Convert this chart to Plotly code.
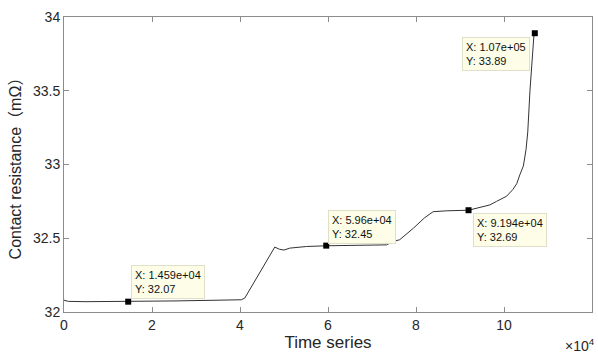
import plotly.graph_objects as go

# curve data
time_x = [0, 1000, 5000, 14590, 25000, 35000, 40300, 41100, 43000, 46400, 47900,
          49000, 50000, 51300, 53000, 55100, 59600, 65000, 73300, 74800, 76300,
          79400, 82000, 83900, 85000, 87000, 91940, 94000, 96800, 98300, 100600,
          102000, 102900, 103600, 104400, 105000, 105400, 105900, 106400, 106800, 107000]
resist_y = [32.08, 32.072, 32.07, 32.07, 32.075, 32.08, 32.083, 32.095, 32.19, 32.365, 32.44,
            32.425, 32.42, 32.433, 32.438, 32.444, 32.449, 32.452, 32.455, 32.478, 32.49,
            32.568, 32.64, 32.68, 32.683, 32.686, 32.69, 32.705, 32.726, 32.75, 32.785,
            32.83, 32.87, 32.93, 32.99, 33.1, 33.22, 33.5, 33.75, 33.876, 33.89]

# data tips
tip_x = [14590, 59600, 91940, 107000]
tip_y = [32.07, 32.45, 32.69, 33.89]
tip_xtext = ["1.459e+04", "5.96e+04", "9.194e+04", "1.07e+05"]
tip_ytext = ["32.07", "32.45", "32.69", "33.89"]

x_tickvals = [0, 20000, 40000, 60000, 80000, 100000, 120000]
x_ticktext = ["0", "2", "4", "6", "8", "10", "12"]
y_tickvals = [32, 32.5, 33, 33.5, 34]
y_ticktext = ["32", "32.5", "33", "33.5", "34"]

FONT = "Liberation Sans, Arial, Noto Sans CJK SC, sans-serif"

fig = go.Figure()
fig.add_trace(go.Scatter(x=time_x, y=resist_y, mode="lines",
                         line=dict(color="#333333", width=1), showlegend=False))
fig.add_trace(go.Scatter(x=tip_x, y=tip_y, mode="markers",
                         marker=dict(symbol="square", size=6, color="black"),
                         showlegend=False))

# annotation placement (anchor, shift) per tip
place = [
    dict(xanchor="left", yanchor="bottom", xshift=3, yshift=3),
    dict(xanchor="left", yanchor="bottom", xshift=2, yshift=2),
    dict(xanchor="left", yanchor="top", xshift=4, yshift=-3),
    dict(xanchor="right", yanchor="top", xshift=-5, yshift=-4),
]
for xv, yv, xt, yt, p in zip(tip_x, tip_y, tip_xtext, tip_ytext, place):
    fig.add_annotation(x=xv, y=yv, xref="x", yref="y", showarrow=False,
                       text=f"X: {xt}<br>Y: {yt}", align="left",
                       font=dict(family=FONT, size=11, color="#111111"),
                       bgcolor="#fdfde8", bordercolor="#e0e0c8", borderwidth=1,
                       borderpad=3, **p)

fig.add_annotation(x=1.0, y=0, xref="paper", yref="paper", xanchor="right", yanchor="top",
                   yshift=-22, xshift=5, showarrow=False, text="×10<sup>4</sup>",
                   font=dict(family=FONT, size=14, color="#262626"))

axis_common = dict(showline=True, linecolor="#8c8c8c", linewidth=1, mirror="ticks",
                   ticks="inside", ticklen=5, tickcolor="#8c8c8c", showgrid=False,
                   zeroline=False, tickfont=dict(family=FONT, size=14, color="#262626"))

fig.update_xaxes(range=[0, 120000], tickvals=x_tickvals, ticktext=x_ticktext,
                 title=dict(text="Time series", font=dict(family=FONT, size=17, color="#262626"),
                            standoff=4),
                 **axis_common)
fig.update_yaxes(range=[32, 34], tickvals=y_tickvals, ticktext=y_ticktext,
                 title=dict(text="Contact resistance（mΩ）",
                            font=dict(family=FONT, size=16, color="#262626"), standoff=7),
                 **axis_common)

fig.update_layout(width=598, height=356, plot_bgcolor="white", paper_bgcolor="white",
                  margin=dict(l=64, r=6, t=17, b=44))
fig.write_html("out.html", config={"displayModeBar": False},
               post_script="document.body.style.margin='0';document.body.style.overflow='hidden';")
